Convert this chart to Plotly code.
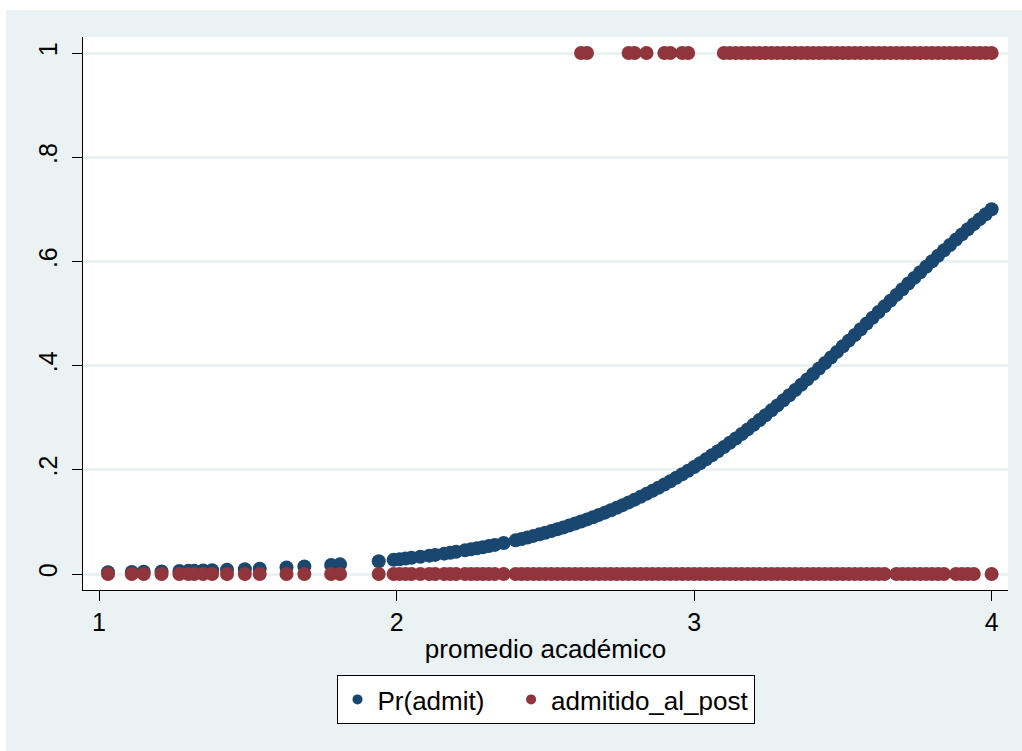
import plotly.graph_objects as go

# GPA values of the applicants with low predicted probability (sparse tail)
gpa_low = [1.03, 1.11, 1.15, 1.21, 1.27, 1.30, 1.32, 1.35, 1.38, 1.43,
           1.49, 1.54, 1.63, 1.69, 1.78, 1.81, 1.94, 1.99, 2.01, 2.03,
           2.05, 2.08, 2.11, 2.13, 2.16, 2.18, 2.20, 2.23, 2.25, 2.27,
           2.29, 2.31, 2.33, 2.36]
pr_low = [0.0034, 0.0040, 0.0044, 0.0050, 0.0057, 0.0061, 0.0064, 0.0068, 0.0073, 0.0081,
          0.0092, 0.0103, 0.0125, 0.0143, 0.0173, 0.0185, 0.0245, 0.0272, 0.0284, 0.0297,
          0.0310, 0.0330, 0.0352, 0.0367, 0.0391, 0.0408, 0.0426, 0.0454, 0.0473, 0.0493,
          0.0514, 0.0536, 0.0559, 0.0595]

# GPA values in the dense part of the sample
gpa_dense = [2.40, 2.42, 2.44, 2.46, 2.48, 2.50, 2.52, 2.54, 2.56, 2.58,
             2.60, 2.62, 2.64, 2.66, 2.68, 2.70, 2.72, 2.74, 2.76, 2.78,
             2.80, 2.82, 2.84, 2.86, 2.88, 2.90, 2.92, 2.94, 2.96, 2.98,
             3.00, 3.02, 3.04, 3.06, 3.08, 3.10, 3.12, 3.14, 3.16, 3.18,
             3.20, 3.22, 3.24, 3.26, 3.28, 3.30, 3.32, 3.34, 3.36, 3.38,
             3.40, 3.42, 3.44, 3.46, 3.48, 3.50, 3.52, 3.54, 3.56, 3.58,
             3.60, 3.62, 3.64, 3.66, 3.68, 3.70, 3.72, 3.74, 3.76, 3.78,
             3.80, 3.82, 3.84, 3.86, 3.88, 3.90, 3.92, 3.94, 3.96, 3.98,
             4.00]
pr_dense = [0.0646, 0.0673, 0.0701, 0.0731, 0.0761, 0.0792, 0.0825, 0.0859, 0.0894, 0.0930,
            0.0968, 0.1007, 0.1048, 0.1090, 0.1134, 0.1178, 0.1225, 0.1273, 0.1322, 0.1374,
            0.1427, 0.1481, 0.1538, 0.1596, 0.1656, 0.1718, 0.1781, 0.1847, 0.1914, 0.1983,
            0.2054, 0.2127, 0.2201, 0.2278, 0.2356, 0.2436, 0.2518, 0.2602, 0.2687, 0.2775,
            0.2864, 0.2955, 0.3047, 0.3141, 0.3236, 0.3333, 0.3432, 0.3532, 0.3633, 0.3735,
            0.3839, 0.3943, 0.4049, 0.4156, 0.4263, 0.4371, 0.4479, 0.4588, 0.4697, 0.4808,
            0.4918, 0.5028, 0.5137, 0.5247, 0.5357, 0.5466, 0.5575, 0.5683, 0.5791, 0.5898,
            0.6004, 0.6109, 0.6213, 0.6316, 0.6418, 0.6518, 0.6617, 0.6715, 0.6811, 0.6906,
            0.7000]

# Observed outcome: not admitted (0)
gpa_rejected = gpa_low + [
    2.40, 2.42, 2.44, 2.46, 2.48, 2.50, 2.52, 2.54, 2.56, 2.58,
    2.60, 2.62, 2.64, 2.66, 2.68, 2.70, 2.72, 2.74, 2.76, 2.78,
    2.80, 2.82, 2.84, 2.86, 2.88, 2.90, 2.92, 2.94, 2.96, 2.98,
    3.00, 3.02, 3.04, 3.06, 3.08, 3.10, 3.12, 3.14, 3.16, 3.18,
    3.20, 3.22, 3.24, 3.26, 3.28, 3.30, 3.32, 3.34, 3.36, 3.38,
    3.40, 3.42, 3.44, 3.46, 3.48, 3.50, 3.52, 3.54,
    3.56, 3.58, 3.60, 3.62, 3.64, 3.68, 3.70, 3.72, 3.74,
    3.76, 3.78, 3.80, 3.82, 3.84, 3.88, 3.90, 3.92, 3.94, 4.00]

# Observed outcome: admitted (1)
gpa_admitted = [2.62, 2.64, 2.78, 2.80, 2.84, 2.90, 2.92, 2.96, 2.98,
                3.10, 3.12, 3.14, 3.16, 3.18, 3.20, 3.22, 3.24, 3.26, 3.28,
                3.30, 3.32, 3.34, 3.36, 3.38, 3.40, 3.42, 3.44, 3.46, 3.48,
                3.50, 3.52, 3.54, 3.56, 3.58, 3.60, 3.62, 3.64, 3.66, 3.68,
                3.70, 3.72, 3.74, 3.76, 3.78, 3.80, 3.82, 3.84, 3.86, 3.88,
                3.90, 3.92, 3.94, 3.96, 3.98, 4.00]

y_ticks = [0, 0.2, 0.4, 0.6, 0.8, 1]
y_ticktext = ["0", ".2", ".4", ".6", ".8", "1"]
x_ticks = [1, 2, 3, 4]

NAVY = "#1A476F"
MAROON = "#90353B"
BG = "#EAF2F3"
FONT = "Liberation Sans, Arial, sans-serif"
NBSP = "\u00a0"

fig = go.Figure()

fig.add_trace(go.Scatter(
    x=gpa_low + gpa_dense, y=pr_low + pr_dense, mode="markers",
    marker=dict(color=NAVY, size=14, line=dict(width=0)),
    name="Pr(admit)", showlegend=False))

outcome_x = gpa_rejected + gpa_admitted
outcome_y = [0] * len(gpa_rejected) + [1] * len(gpa_admitted)
fig.add_trace(go.Scatter(
    x=outcome_x, y=outcome_y, mode="markers",
    marker=dict(color=MAROON, size=14, line=dict(width=0)),
    name="admitido_al_post", showlegend=False))

# legend entries with smaller key symbols
fig.add_trace(go.Scatter(x=[None], y=[None], mode="markers",
                         marker=dict(color=NAVY, size=10), name="Pr(admit)" + NBSP * 3))
fig.add_trace(go.Scatter(x=[None], y=[None], mode="markers",
                         marker=dict(color=MAROON, size=10), name="admitido_al_post"))

fig.update_layout(
    width=1022, height=751,
    margin=dict(l=83, r=14, t=37, b=161),
    paper_bgcolor=BG, plot_bgcolor="white",
    font=dict(family=FONT, size=25, color="black"),
    showlegend=True,
    legend=dict(orientation="h", x=0.5, xanchor="center", y=-0.1537, yanchor="top",
                bgcolor="white", bordercolor="black", borderwidth=1,
                font=dict(family=FONT, size=26, color="black")),
    shapes=[
        dict(type="rect", xref="paper", yref="paper", x0=-0.2, x1=-0.0832,
             y0=-0.4, y1=1.2, fillcolor="white", line=dict(width=0), layer="above"),
        dict(type="rect", xref="paper", yref="paper", x0=-0.2, x1=1.2,
             y0=1.0488, y1=1.2, fillcolor="white", line=dict(width=0), layer="above"),
    ],
)

fig.update_xaxes(
    range=[0.946, 4.055], tickvals=x_ticks, ticks="outside", ticklen=10,
    tickwidth=1, tickcolor="black", showline=True, linecolor="black", linewidth=1,
    showgrid=False, zeroline=False,
    title=dict(text="promedio académico", font=dict(family=FONT, size=26), standoff=4),
    tickfont=dict(family=FONT, size=25),
)
fig.update_yaxes(
    range=[-0.0307, 1.0307], tickvals=y_ticks, ticktext=y_ticktext, tickangle=-90,
    ticks="outside", ticklen=10, tickwidth=1, tickcolor="black",
    showline=True, linecolor="black", linewidth=1,
    showgrid=True, gridcolor=BG, gridwidth=2.5, zeroline=False,
    tickfont=dict(family=FONT, size=25), ticklabelstandoff=5,
)

fig.write_html("out.html")
